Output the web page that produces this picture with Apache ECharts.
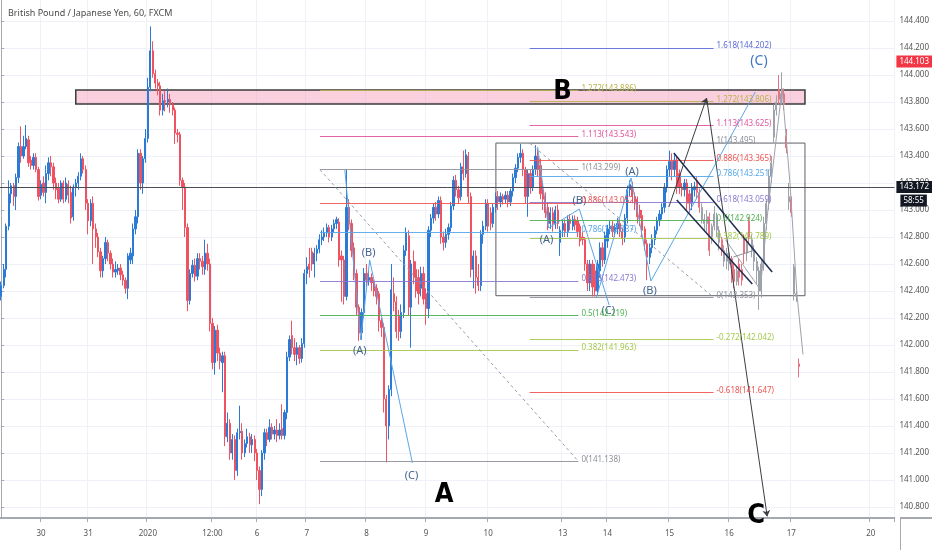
<!DOCTYPE html>
<html>
<head>
<meta charset="utf-8">
<title>GBPJPY 60</title>
<script src="https://cdn.jsdelivr.net/npm/echarts@6.0.0/dist/echarts.min.js"></script>
<style>
html, body { margin: 0; padding: 0; background: #fff; }
#chart { width: 932px; height: 550px; }
</style>
</head>
<body>
<div id="chart"></div>
<script>
var myChart = echarts.init(document.getElementById('chart'));

// hourly slots on the time axis (visible range incl. future space)
var SLOTS = 360;
var dateLabels = ['30', '31', '2020', '12:00', '6', '7', '8', '9', '10', '13', '14', '15', '16', '17', '20'];
var dateIndex = [16, 35, 59, 85, 103, 123, 147, 171, 196, 226, 244, 269, 293, 318, 350];
var priceTicks = [140.8, 141.0, 141.2, 141.4, 141.6, 141.8, 142.0, 142.2, 142.4, 142.6, 142.8, 143.0, 143.2, 143.4, 143.6, 143.8, 144.0, 144.2, 144.4];
var lastPrice = 143.172;
var alertPrice = 144.103;
var countdown = '58:55';

// [open, close, low, high]
var candles = [
  [142.36,142.44,142.33,142.47],[142.44,142.56,142.42,142.6],[142.56,142.88,142.5,142.9],[142.88,143.12,142.85,143.22],
  [143.12,143.18,143.05,143.2],[143.18,143.1,143.03,143.2],[143.1,143.24,143.0,143.27],[143.24,143.47,143.2,143.5],
  [143.47,143.4,143.35,143.62],[143.4,143.47,143.38,143.55],[143.47,143.53,143.45,143.63],[143.52,143.35,143.32,143.55],
  [143.37,143.33,143.3,143.4],[143.33,143.39,143.3,143.42],[143.39,143.3,143.28,143.42],[143.3,143.1,143.07,143.32],
  [143.11,143.19,143.08,143.22],[143.2,143.13,143.1,143.25],[143.13,143.27,143.05,143.33],[143.27,143.35,143.22,143.39],
  [143.35,143.32,143.25,143.4],[143.32,143.2,143.15,143.35],[143.2,143.15,143.08,143.24],[143.16,143.08,143.05,143.2],
  [143.08,143.2,143.06,143.22],[143.2,143.08,143.05,143.22],[143.08,143.2,143.06,143.24],[143.19,143.11,143.05,143.22],
  [143.13,142.94,142.9,143.18],[142.95,143.17,142.92,143.19],[143.17,143.2,143.1,143.23],[143.2,143.25,143.15,143.28],
  [143.25,143.38,143.22,143.42],[143.38,143.3,143.27,143.4],[143.3,143.05,143.0,143.33],[143.05,142.92,142.82,143.08],
  [142.92,143.05,142.88,143.08],[143.05,142.86,142.6,143.1],[142.86,142.8,142.72,142.9],[142.8,142.69,142.65,142.83],
  [142.69,142.55,142.5,142.72],[142.55,142.64,142.5,142.66],[142.64,142.76,142.6,142.8],[142.76,142.68,142.62,142.78],
  [142.68,142.6,142.56,142.7],[142.6,142.54,142.5,142.64],[142.54,142.56,142.5,142.62],[142.55,142.57,142.52,142.6],
  [142.57,142.52,142.48,142.6],[142.52,142.48,142.44,142.55],[142.48,142.42,142.38,142.5],[142.42,142.66,142.34,142.68],
  [142.63,142.68,142.6,142.72],[142.66,142.86,142.6,142.9],[142.86,142.95,142.82,143.0],[142.95,143.42,142.9,143.45],
  [143.42,143.2,143.15,143.45],[143.2,143.38,143.12,143.4],[143.38,143.53,143.35,143.6],[143.53,143.91,143.5,143.98],
  [143.91,144.18,143.88,144.36],[144.18,144.01,143.98,144.25],[144.01,143.94,143.9,144.04],[143.94,143.92,143.85,143.97],
  [143.92,143.74,143.7,143.95],[143.74,143.81,143.7,143.86],[143.81,143.8,143.73,143.88],[143.8,143.82,143.76,143.9],
  [143.82,143.78,143.72,143.86],[143.78,143.74,143.7,143.8],[143.74,143.57,143.49,143.76],[143.57,143.56,143.5,143.6],
  [143.56,143.22,143.18,143.58],[143.22,143.17,143.0,143.24],[143.17,142.87,142.8,143.2],[142.87,142.33,142.25,142.9],
  [142.33,142.53,142.3,142.56],[142.53,142.59,142.5,142.63],[142.59,142.51,142.47,142.64],[142.51,142.64,142.48,142.68],
  [142.64,142.62,142.56,142.68],[142.62,142.58,142.52,142.66],[142.56,142.68,142.52,142.78],[142.68,142.6,142.55,142.75],
  [142.6,142.16,142.1,142.64],[142.16,141.87,141.82,142.2],[141.87,142.11,141.78,142.14],[142.11,141.94,141.88,142.15],
  [141.94,141.88,141.82,141.98],[141.87,141.92,141.65,141.95],[141.92,141.32,141.25,141.95],[141.32,141.42,141.28,141.5],
  [141.42,141.2,141.15,141.45],[141.2,141.3,141.15,141.34],[141.3,141.07,141.0,141.33],[141.07,141.35,141.03,141.38],
  [141.35,141.36,141.3,141.55],[141.36,141.2,141.15,141.42],[141.2,141.27,141.17,141.3],[141.27,141.32,141.24,141.38],
  [141.32,141.26,141.2,141.35],[141.26,141.3,141.2,141.34],[141.3,141.2,141.14,141.33],[141.2,141.07,141.0,141.23],
  [141.07,140.93,140.82,141.1],[140.93,141.2,140.88,141.22],[141.2,141.35,141.15,141.38],[141.35,141.3,141.25,141.38],
  [141.3,141.39,141.28,141.45],[141.39,141.34,141.3,141.42],[141.34,141.37,141.3,141.4],[141.37,141.33,141.28,141.45],
  [141.33,141.37,141.3,141.42],[141.38,141.33,141.3,141.56],[141.33,141.5,141.3,141.52],[141.5,141.91,141.45,141.95],
  [141.91,142.04,141.88,142.07],[142.07,141.98,141.93,142.18],[141.98,141.93,141.88,142.05],[141.93,141.98,141.85,142.02],
  [141.98,141.9,141.86,142.0],[141.9,142.01,141.87,142.05],[142.01,142.53,141.98,142.56],[142.53,142.58,142.45,142.65],
  [142.6,142.56,142.5,142.72],[142.69,142.6,142.55,142.72],[142.6,142.68,142.5,142.72],[142.68,142.71,142.62,142.74],
  [142.71,142.78,142.68,142.82],[142.78,142.8,142.74,142.85],[142.8,142.83,142.77,142.87],[142.83,142.87,142.8,142.9],
  [142.87,142.8,142.76,142.89],[142.8,142.86,142.77,142.89],[142.86,142.9,142.83,142.93],[142.9,142.93,142.86,142.95],
  [142.91,142.63,142.58,142.94],[142.66,142.63,142.32,142.7],[142.63,142.36,142.3,142.66],[142.36,143.02,142.33,143.3],
  [143.02,142.9,142.85,143.08],[142.9,142.7,142.65,142.93],[142.72,142.53,142.48,142.76],[142.53,142.28,142.22,142.56],
  [142.28,142.09,142.03,142.3],[142.09,142.24,142.04,142.27],[142.24,142.53,142.2,142.57],[142.53,142.48,142.43,142.6],
  [142.48,142.5,142.44,142.55],[142.5,142.46,142.4,142.53],[142.46,142.4,142.36,142.48],[142.42,142.36,142.3,142.45],
  [142.38,142.18,142.1,142.4],[142.18,142.13,142.06,142.2],[142.13,141.6,141.5,142.16],[141.6,141.4,141.13,141.63],
  [141.4,141.67,141.3,141.7],[141.67,142.41,141.62,142.6],[142.38,142.32,142.25,142.5],[142.32,142.1,142.05,142.36],
  [142.22,142.1,142.03,142.26],[142.1,142.24,142.05,142.3],[142.24,142.7,142.2,142.74],[142.7,142.83,142.66,142.87],
  [142.81,142.28,142.22,142.85],[142.28,142.6,141.98,142.63],[142.62,142.5,142.45,142.7],[142.56,142.4,142.35,142.62],
  [142.5,142.38,142.3,142.56],[142.42,142.53,142.36,142.58],[142.53,142.34,142.3,142.58],[142.38,142.27,142.15,142.42],
  [142.27,142.85,142.2,142.88],[142.85,142.94,142.8,142.97],[142.94,143.02,142.9,143.05],[143.02,142.97,142.92,143.06],
  [142.97,143.07,142.94,143.1],[143.07,142.8,142.75,143.1],[142.8,142.76,142.7,142.84],[142.76,142.82,142.72,142.86],
  [142.82,142.87,142.78,142.9],[142.87,143.03,142.84,143.06],[143.03,143.22,143.0,143.25],[143.22,143.15,143.1,143.26],
  [143.15,143.09,143.05,143.18],[143.1,143.32,143.07,143.35],[143.32,143.27,143.22,143.44],[143.27,143.41,143.24,143.45],
  [143.4,143.1,143.05,143.43],[143.1,142.56,142.5,143.13],[142.56,142.66,142.42,142.7],[142.66,142.5,142.38,142.7],
  [142.5,142.44,142.4,142.6],[142.44,142.82,142.4,142.85],[142.82,142.88,142.75,142.92],[142.88,143.05,142.85,143.08],
  [143.05,142.88,142.84,143.08],[142.98,142.9,142.85,143.02],[142.9,143.02,142.87,143.05],[143.02,143.1,142.98,143.13],
  [143.1,143.06,143.0,143.14],[143.06,143.1,143.02,143.13],[143.1,143.08,143.04,143.12],[143.08,143.11,143.05,143.14],
  [143.11,143.06,143.02,143.14],[143.06,143.14,143.03,143.16],[143.14,143.24,143.1,143.27],[143.24,143.31,143.2,143.34],
  [143.31,143.39,143.28,143.42],[143.39,143.42,143.35,143.49],[143.42,143.3,143.25,143.45],[143.3,143.1,143.05,143.32],
  [143.1,143.27,142.95,143.3],[143.27,143.17,143.12,143.3],[143.17,143.3,143.14,143.33],[143.3,143.4,143.26,143.48],
  [143.4,143.3,143.25,143.45],[143.33,143.12,143.08,143.38],[143.15,143.08,143.0,143.2],[143.1,142.98,142.94,143.13],
  [143.02,142.9,142.85,143.05],[142.9,142.98,142.86,143.02],[142.98,142.9,142.84,143.02],[142.9,143.0,142.86,143.03],
  [143.0,142.9,142.86,143.04],[142.76,142.85,142.66,142.88],[142.85,142.9,142.8,142.93],[142.9,142.84,142.8,142.93],
  [142.84,142.93,142.8,142.96],[142.93,142.9,142.85,142.97],[142.88,142.93,142.85,142.96],[142.93,142.89,142.85,142.96],
  [142.92,142.84,142.8,142.95],[142.88,142.77,142.73,142.9],[142.8,142.78,142.74,142.84],[142.78,142.6,142.55,142.8],
  [142.6,142.46,142.4,142.63],[142.46,142.6,142.4,142.63],[142.6,142.43,142.36,142.63],[142.55,142.4,142.36,142.6],
  [142.4,142.6,142.37,142.63],[142.55,142.72,142.5,142.76],[142.72,142.63,142.58,142.76],[142.63,142.81,142.6,142.84],
  [142.77,142.86,142.72,142.89],[142.86,142.88,142.82,142.92],[142.88,142.84,142.8,142.92],[142.84,142.87,142.8,142.9],
  [142.86,142.9,142.82,142.94],[142.9,142.84,142.8,142.93],[142.84,142.79,142.74,142.87],[142.8,142.94,142.76,142.97],
  [142.94,143.15,142.9,143.18],[143.15,143.19,143.1,143.22],[143.18,143.1,143.05,143.21],[143.1,143.06,143.0,143.13],
  [143.08,142.95,142.9,143.1],[143.0,142.94,142.88,143.04],[142.96,142.85,142.8,143.0],[142.86,142.75,142.7,142.88],
  [142.75,142.65,142.48,142.78],[142.65,142.72,142.6,142.75],[142.72,142.78,142.68,142.82],[142.78,142.85,142.74,142.88],
  [142.85,142.92,142.82,142.95],[142.92,142.97,142.88,143.0],[142.97,143.02,142.93,143.05],[143.02,143.17,142.98,143.2],
  [143.17,143.3,143.13,143.33],[143.3,143.36,143.25,143.44],[143.36,143.3,143.22,143.42],[143.3,143.37,143.25,143.42],
  [143.37,143.17,143.12,143.4],[143.27,143.17,143.12,143.3],[143.17,143.15,143.1,143.2],[143.15,143.2,143.1,143.23],
  [143.2,143.05,143.0,143.23],[143.12,143.05,142.98,143.15],[143.05,143.17,143.0,143.2],[143.15,143.172,143.1,143.21]
];

// projected "bars pattern" copy, starting right after the last real bar
var ghostStart = 280;
var ghostGray = [
  null, null, [143.02,142.93,142.9,143.05], [142.93,142.9,142.85,142.97], [142.9,142.95,142.84,143.0], null,
  [142.8,142.88,142.75,142.9], [142.88,142.97,142.85,143.03], [142.95,142.85,142.8,142.98], [142.85,142.76,142.7,142.88], null,
  [142.7,142.62,142.58,142.74], [142.62,142.68,142.56,142.72], [142.68,142.6,142.55,142.7], null, null,
  [142.47,142.55,142.44,142.58], null, null, null, [142.68,142.75,142.62,142.8], null,
  [142.78,142.7,142.65,142.82], [142.7,142.62,142.55,142.74], [142.62,142.55,142.45,142.65], [142.55,142.4,142.26,142.58],
  [142.4,142.6,142.35,142.63], [142.6,142.9,142.55,142.95], [142.9,143.05,142.85,143.08], [143.05,143.25,143.0,143.3],
  [143.25,143.35,143.2,143.4], [143.54,143.74,143.5,143.78], [143.74,143.8,143.7,143.85], null,
  [143.82,143.86,143.78,144.02], null, null, [143.06,143.1,143.0,143.2], null,
  [142.58,142.38,142.33,142.6], [142.38,142.36,142.32,142.4], null
];
var ghostRed = [
  [143.22,143.13,143.08,143.25], [143.13,143.02,142.98,143.16], null, null, null, [142.95,142.7,142.66,142.98],
  null, null, null, null, [142.78,142.7,142.66,142.8],
  null, null, null, [142.64,142.52,142.46,142.66], [142.56,142.47,142.42,142.6],
  null, [142.6,142.5,142.44,142.64], [142.56,142.48,142.44,142.6], [142.8,142.68,142.6,142.82], null, [142.92,142.8,142.75,142.95],
  null, null, null, null,
  null, null, null, null,
  null, null, null, [143.89,143.82,143.78,144.0],
  null, [143.86,143.78,143.74,143.9], [143.55,143.46,143.42,143.6], null, [143.08,142.98,142.95,143.1],
  null, null, [141.86,141.84,141.76,141.9]
];

// drawings: x in bar units, y in price
var fibLeft = [[1.272,143.886],[1.113,143.543],[1,143.299],[0.886,143.052],[0.786,142.837],[0.618,142.473],[0.5,142.219],[0.382,141.963],[0,141.138]];
var fibLeftSpan = [128.3, 232.3];
var fibRight = [[1.618,144.202],[1.272,143.806],[1.113,143.625],[1,143.495],[0.886,143.365],[0.786,143.251],[0.618,143.059],[0.5,142.924],[0.382,142.789],[0,142.353],[-0.272,142.042],[-0.618,141.647]];
var fibRightSpan = [212.7, 286.7];
var zoneB = [[30.0, 143.889], [323.5, 143.785]];
var rangeBox = [[199.1, 143.496], [323.5, 142.365]];
var waveLeft = [[138.3,143.296],[144.7,142.037],[148.3,142.63],[165.5,141.126]];
var waveMid = [[215.9,143.467],[220.3,142.867],[232.7,143.007],[244.7,142.296]];
var waveBig = [[239.5,142.348],[253.5,143.237],[261.5,142.474],[303.5,143.874]];
var projection = [[268.7,143.022],[283.9,143.83],[308.3,140.73]];
var channelUpper = [[270.7,143.422],[310.3,142.541]];
var channelLower = [[271.9,143.074],[302.3,142.452]];
var ghostPath = [[291.5,142.78],[298.7,142.59],[305.5,142.41],[308.7,143.02],[314.3,143.9],[317.5,143.19],[320.3,142.37],[322.7,141.93]];
var ghostTick = [[294.7,142.652],[303.5,142.704]];
var waveTexts = [['(A)',144.3,141.956],['(B)',147.9,142.681],['(C)',165.1,141.03],['(A)',219.5,142.778],['(B)',232.7,143.067],['(C)',244.3,142.252],['(A)',253.9,143.281],['(B)',261.1,142.4]];
var waveTopText = ['(C)', 305.0, 144.105];
var bigTexts = [['B',225.9,143.874],['A',178.3,140.889],['C',303.9,140.73]];

var fibColor = {
  '1.618': '#5c6bd6', '1.272': '#b9b24e', '1.113': '#e0549e', '1': '#8d9099', '0.886': '#ef5350',
  '0.786': '#55a6e8', '0.618': '#8a78cf', '0.5': '#4caf50', '0.382': '#a4c94c', '0': '#8d9099',
  '-0.272': '#a4c94c', '-0.618': '#ef5350'
};
var font = 'Noto Sans, DejaVu Sans, sans-serif';

var categories = [];
var labelAt = {};
for (var i = 0; i < SLOTS; i++) categories.push('h' + i);
dateIndex.forEach(function (idx, k) { labelAt[idx] = dateLabels[k]; });
function isDateTick(index) { return labelAt[index] !== undefined; }

function ghostData(arr) {
  var out = [];
  arr.forEach(function (d, k) { if (d) out.push([ghostStart + k].concat(d)); });
  return out;
}

function fibLines(levels, span) {
  return levels.map(function (lv) {
    var c = fibColor[String(lv[0])];
    return [
      { coord: [span[0], lv[1]], lineStyle: { color: c, width: 1, type: 'solid', opacity: 0.9 }, label: { show: false } },
      { coord: [span[1], lv[1]] }
    ];
  });
}

// level captions sit just right of each level's end, a little above the line
function fibCaptions(levels, span) {
  return levels.map(function (lv) {
    var c = fibColor[String(lv[0])];
    return {
      coord: [span[1], lv[1]],
      label: { show: true, position: 'right', distance: 3, offset: [0, -2],
               formatter: lv[0] + '(' + lv[1].toFixed(3) + ')', color: c, fontSize: 8, fontFamily: font }
    };
  });
}

function segment(a, b, style, arrow) {
  return [
    { coord: a, lineStyle: style, label: { show: false }, symbol: 'none' },
    { coord: b, symbol: arrow ? 'arrow' : 'none', symbolSize: arrow ? 6 : 0 }
  ];
}

function pathSeries(points, color, width) {
  return {
    type: 'line', xAxisIndex: 1, data: points, symbol: 'none', showSymbol: false, silent: true,
    animation: false, lineStyle: { color: color, width: width }, z: 4
  };
}

function priceTag(value, text, bg, distance) {
  return {
    yAxis: value, lineStyle: { color: 'rgba(0,0,0,0)', width: 1 },
    label: { show: true, position: 'end', distance: distance, formatter: text, color: '#fff',
             backgroundColor: bg, padding: [2, 3, 2, 3], fontSize: 8, fontFamily: font }
  };
}

var dashed = { color: '#9a9da6', width: 1, type: [3, 3] };
var dark = { color: '#3a3d44', width: 1, type: 'solid' };
var navy = { color: '#1d2d50', width: 1.5, type: 'solid' };

var drawLines = []
  .concat(fibLines(fibLeft, fibLeftSpan))
  .concat(fibLines(fibRight, fibRightSpan))
  .concat([
    segment([fibLeftSpan[0], fibLeft[2][1]], [fibLeftSpan[1], fibLeft[8][1]], dashed, false),
    segment([fibRightSpan[0], fibRight[3][1]], [fibRightSpan[1], fibRight[9][1]], dashed, false),
    segment(projection[0], projection[1], dark, true),
    segment(projection[1], projection[2], dark, true),
    segment(channelUpper[0], channelUpper[1], navy, false),
    segment(channelLower[0], channelLower[1], navy, false)
  ]);

var textPoints = waveTexts.map(function (t) {
  return { coord: [t[1], t[2]], label: { show: true, position: 'inside', formatter: t[0], color: '#45648f', fontSize: 11, fontFamily: font } };
}).concat([{
  coord: [waveTopText[1], waveTopText[2]],
  label: { show: true, position: 'inside', formatter: waveTopText[0], color: '#3f78c4', fontSize: 14, fontFamily: font }
}]).concat(bigTexts.map(function (t) {
  return { coord: [t[1], t[2]], label: { show: true, position: 'inside', formatter: t[0], color: '#000', fontSize: 27,
           fontWeight: 'bold', fontFamily: 'DejaVu Sans Condensed, Liberation Sans Narrow, sans-serif' } };
})).concat(fibCaptions(fibLeft, fibLeftSpan)).concat(fibCaptions(fibRight, fibRightSpan));

option = {
  backgroundColor: '#fff',
  animation: false,
  title: {
    text: 'British Pound / Japanese Yen, 60, FXCM',
    left: 3,
    top: 4,
    textStyle: { fontSize: 9, fontWeight: 'normal', color: '#4a4a4a', fontFamily: font }
  },
  grid: { left: 0, right: 32, top: 0, bottom: 32 },
  xAxis: [
    {
      type: 'category',
      data: categories,
      boundaryGap: true,
      axisLine: { lineStyle: { color: '#a6a9b1', width: 2 } },
      axisTick: { show: true, interval: isDateTick, length: 4, lineStyle: { color: '#a6a9b1' } },
      axisLabel: {
        interval: isDateTick,
        formatter: function (v, idx) { return labelAt[idx] || ''; },
        color: '#555', fontSize: 8, margin: 12, fontFamily: font
      },
      splitLine: { show: true, interval: isDateTick, lineStyle: { color: '#eef1f7' } }
    },
    { type: 'value', show: false, min: -0.5, max: SLOTS - 0.5 }
  ],
  yAxis: {
    type: 'value',
    position: 'right',
    min: 140.718,
    max: 144.556,
    scale: true,
    axisLine: { show: true, lineStyle: { color: '#a6a9b1' } },
    axisTick: { show: true, length: 3, customValues: priceTicks, lineStyle: { color: '#a6a9b1' } },
    axisLabel: {
      customValues: priceTicks,
      formatter: function (v) { return v.toFixed(3); },
      color: '#555', fontSize: 8, margin: 5, fontFamily: font
    },
    splitLine: { show: true, lineStyle: { color: '#eef1f7' } }
  },
  graphic: [
    { type: 'line', shape: { x1: 900, y1: 518, x2: 932, y2: 518 }, style: { stroke: '#a6a9b1', lineWidth: 2 } },
    { type: 'line', shape: { x1: 900.5, y1: 518, x2: 900.5, y2: 550 }, style: { stroke: '#a6a9b1', lineWidth: 1 } }
  ],
  series: [
    {
      name: 'zones',
      type: 'line',
      xAxisIndex: 1,
      data: [],
      silent: true,
      z: 1,
      markArea: {
        silent: true,
        label: { show: false },
        data: [
          [{ coord: zoneB[0], itemStyle: { color: 'rgba(245,150,185,0.45)', borderColor: '#3b3b3b', borderWidth: 1.5 } }, { coord: zoneB[1] }],
          [{ coord: rangeBox[0], itemStyle: { color: 'rgba(255,255,255,0)', borderColor: '#5d6068', borderWidth: 1 } }, { coord: rangeBox[1] }]
        ]
      }
    },
    {
      name: 'GBPJPY',
      type: 'candlestick',
      data: candles,
      barWidth: '72%',
      z: 3,
      itemStyle: {
        color: '#2b7bd6', color0: '#ef5362',
        borderColor: '#2b7bd6', borderColor0: '#ef5362', borderWidth: 1
      },
      markLine: {
        silent: true,
        symbol: 'none',
        animation: false,
        data: [
          { yAxis: lastPrice, lineStyle: { color: '#4a4d55', width: 1, type: 'solid' },
            label: { show: true, position: 'end', distance: 2, formatter: lastPrice.toFixed(3), color: '#fff',
                     backgroundColor: '#131722', padding: [2, 3, 2, 3], fontSize: 8, fontFamily: font } },
          priceTag(lastPrice - 0.1, countdown, '#131722', 6),
          priceTag(alertPrice, alertPrice.toFixed(3), '#f23645', 2)
        ]
      }
    },
    {
      name: 'pattern',
      type: 'candlestick',
      data: ghostData(ghostGray),
      encode: { x: 0, y: [1, 2, 3, 4] },
      barWidth: '60%',
      z: 2,
      itemStyle: { color: '#d4d7de', color0: '#d4d7de', borderColor: '#9ea2ab', borderColor0: '#9ea2ab', borderWidth: 1 }
    },
    {
      name: 'pattern red',
      type: 'candlestick',
      data: ghostData(ghostRed),
      encode: { x: 0, y: [1, 2, 3, 4] },
      barWidth: '60%',
      z: 2,
      itemStyle: { color: '#f3a4ad', color0: '#f3a4ad', borderColor: '#e8727f', borderColor0: '#e8727f', borderWidth: 1 }
    },
    {
      name: 'drawings',
      type: 'line',
      xAxisIndex: 1,
      data: [],
      silent: true,
      z: 5,
      markLine: { silent: true, symbol: 'none', animation: false, data: drawLines },
      markPoint: { silent: true, symbol: 'circle', symbolSize: 0, animation: false, data: textPoints }
    },
    pathSeries(waveLeft, '#5aa6e6', 1),
    pathSeries(waveMid, '#5aa6e6', 1),
    pathSeries(waveBig, '#5aa6e6', 1),
    pathSeries(ghostPath, '#9ea2ab', 1),
    pathSeries(ghostTick, '#8d9099', 1)
  ]
};

myChart.setOption(option);
</script>
</body>
</html>
